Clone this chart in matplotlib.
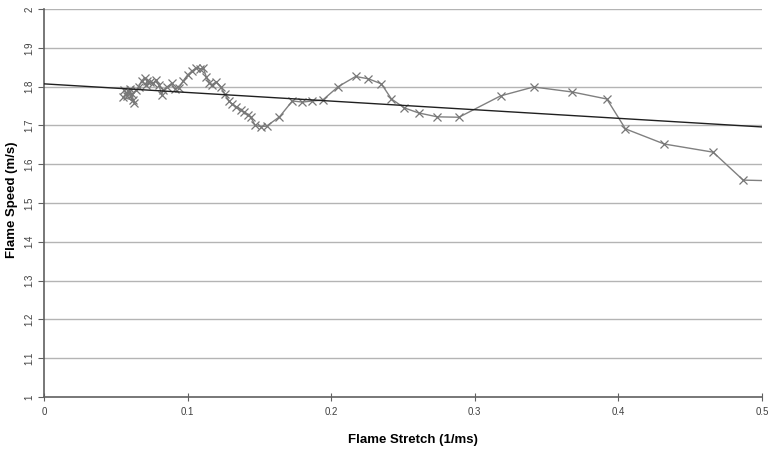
import numpy as np
import matplotlib.pyplot as plt

plt.rcParams['font.family'] = ['Liberation Sans', 'DejaVu Sans']

# flame stretch (1/ms) vs flame speed (m/s)
stretch = [0.056, 0.058, 0.060, 0.055, 0.062, 0.059, 0.063, 0.061, 0.064, 0.066,
           0.068, 0.070, 0.072, 0.071, 0.074, 0.076, 0.078, 0.080, 0.082, 0.083,
           0.086, 0.089, 0.091, 0.094, 0.097, 0.100, 0.103, 0.106, 0.109, 0.111,
           0.113, 0.115, 0.117, 0.120, 0.123, 0.126, 0.129, 0.131, 0.134, 0.137,
           0.139, 0.142, 0.144, 0.147, 0.151, 0.155, 0.164, 0.173, 0.180, 0.187,
           0.194, 0.205, 0.217, 0.226, 0.235, 0.242, 0.251, 0.261, 0.274, 0.289,
           0.318, 0.341, 0.368, 0.392, 0.405, 0.432, 0.466, 0.487, 0.520]
speed = [1.790, 1.775, 1.795, 1.772, 1.765, 1.785, 1.758, 1.780, 1.790, 1.800,
         1.815, 1.822, 1.815, 1.805, 1.812, 1.808, 1.817, 1.805, 1.778, 1.790,
         1.800, 1.808, 1.795, 1.797, 1.815, 1.830, 1.840, 1.848, 1.845, 1.848,
         1.825, 1.810, 1.805, 1.812, 1.800, 1.780, 1.762, 1.755, 1.748, 1.740,
         1.735, 1.728, 1.722, 1.700, 1.697, 1.698, 1.722, 1.763, 1.760, 1.763,
         1.765, 1.800, 1.826, 1.820, 1.807, 1.768, 1.745, 1.732, 1.722, 1.721,
         1.776, 1.799, 1.786, 1.768, 1.691, 1.652, 1.631, 1.559, 1.556]

# linear trend line
trend_intercept = 1.807
trend_slope = -0.222

x_ticks = [0, 0.1, 0.2, 0.3, 0.4, 0.5]
x_tick_labels = ['0', '0.1', '0.2', '0.3', '0.4', '0.5']
y_ticks = [1.0, 1.1, 1.2, 1.3, 1.4, 1.5, 1.6, 1.7, 1.8, 1.9, 2.0]
y_tick_labels = ['1', '1.1', '1.2', '1.3', '1.4', '1.5', '1.6', '1.7', '1.8', '1.9', '2']

fig = plt.figure(figsize=(7.68, 4.53), dpi=100)
ax = fig.add_axes([0.0573, 0.1236, 0.9347, 0.8566])

for yv in y_ticks[1:]:
    ax.axhline(yv, color='#b4b4b4', linewidth=1.0, zorder=0)

ax.plot(stretch, speed, color='#808080', linewidth=1.0, marker='x',
        markersize=6, markeredgewidth=0.9, markeredgecolor='#777777', zorder=2)

tx = np.array([0.0, 0.5])
ax.plot(tx, trend_intercept + trend_slope * tx, color='#202020', linewidth=1.0, zorder=3)

ax.set_xlim(0, 0.5)
ax.set_ylim(1, 2)
ax.set_xticks(x_ticks)
ax.set_xticklabels(x_tick_labels)
ax.set_yticks(y_ticks)
ax.set_yticklabels(y_tick_labels, rotation=90, va='center')

for s in ['top', 'right']:
    ax.spines[s].set_visible(False)
for s in ['left', 'bottom']:
    ax.spines[s].set_color('#606060')
    ax.spines[s].set_linewidth(1.2)

ax.tick_params(axis='x', direction='inout', length=6, color='#606060',
               labelsize=7, labelcolor='#404040', pad=4)
ax.tick_params(axis='y', direction='out', length=4, color='#606060',
               labelsize=7, labelcolor='#404040', pad=3)

fig.text(0.538, 0.028, 'Flame Stretch (1/ms)', ha='center', va='center',
         fontsize=9.5, fontweight='bold')
fig.text(0.015, 0.56, 'Flame Speed (m/s)', ha='center', va='center',
         fontsize=9.5, fontweight='bold', rotation=90)

plt.savefig('out.png', dpi=100, facecolor='white')
